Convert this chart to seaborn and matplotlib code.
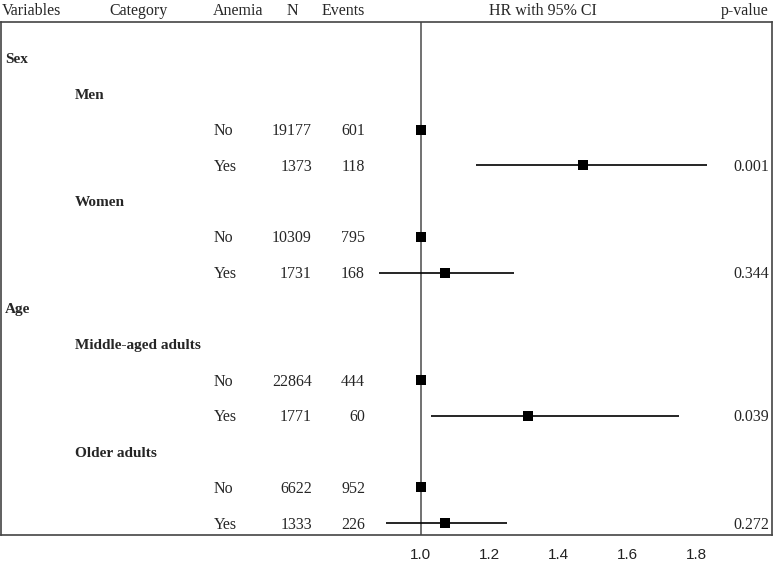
import seaborn as sns
import matplotlib.pyplot as plt
import pandas as pd

# table rows, top to bottom
labels = ["Sex", "Men", "No", "Yes", "Women", "No", "Yes",
          "Age", "Middle-aged adults", "No", "Yes", "Older adults", "No", "Yes"]
levels = [0, 1, 2, 2, 1, 2, 2, 0, 1, 2, 2, 1, 2, 2]
n_vals = ["", "", "19177", "1373", "", "10309", "1731",
          "", "", "22864", "1771", "", "6622", "1333"]
events = ["", "", "601", "118", "", "795", "168",
          "", "", "444", "60", "", "952", "226"]
pvals = ["", "", "", "0.001", "", "", "0.344",
         "", "", "", "0.039", "", "", "0.272"]

# hazard ratios (None = no estimate on that row)
hr = [None, None, 1.0, 1.47, None, 1.0, 1.07,
      None, None, 1.0, 1.31, None, 1.0, 1.07]
lo = [None, None, 1.0, 1.16, None, 1.0, 0.88,
      None, None, 1.0, 1.03, None, 1.0, 0.90]
hi = [None, None, 1.0, 1.83, None, 1.0, 1.27,
      None, None, 1.0, 1.75, None, 1.0, 1.25]

df = pd.DataFrame({"row": range(len(labels)), "hr": hr, "lo": lo, "hi": hi}).dropna()

sns.set_style("white")
plt.rcParams["font.family"] = ["Liberation Serif", "DejaVu Serif"]

fig = plt.figure(figsize=(7.74, 5.61), dpi=100)
ax = fig.add_axes([1 / 774, 26 / 561, 771 / 774, 513 / 561])

# pixel -> axes fraction helper for the text columns
def fx(px):
    return (px - 1) / 771

ax.axvline(1.0, color="#666666", lw=1.3, zorder=1)
ax.hlines(df["row"], df["lo"], df["hi"], color="black", lw=1.2, zorder=2)
sns.scatterplot(data=df, x="hr", y="row", marker="s", s=60, color="black",
                edgecolor="black", linewidth=0, ax=ax, zorder=3, legend=False)

ax.set_xlim(1 - 419.7 / 345, 1 + 351.3 / 345)
ax.set_ylim(13.335, -1.006)
ax.set_xticks([1.0, 1.2, 1.4, 1.6, 1.8])
ax.set_xticklabels(["1.0", "1.2", "1.4", "1.6", "1.8"],
                   family="Liberation Sans", fontsize=11, color="#222222")
ax.set_yticks([])
ax.set_xlabel("")
ax.set_ylabel("")
ax.tick_params(axis="x", length=4, width=1, color="#555555", pad=5.5)
for sp in ax.spines.values():
    sp.set_color("#444444")
    sp.set_linewidth(1.2)

tr = ax.get_yaxis_transform()
fs = 11.5
dy = 0.045
for i, lab in enumerate(labels):
    y = i + dy
    if levels[i] == 0:
        ax.text(fx(5), y, lab, transform=tr, fontsize=11, fontweight="bold", va="center")
    elif levels[i] == 1:
        ax.text(fx(75), y, lab, transform=tr, fontsize=11, fontweight="bold", va="center")
    else:
        ax.text(fx(214), y, lab, transform=tr, fontsize=fs, va="center")
    ax.text(fx(312), y, n_vals[i], transform=tr, fontsize=fs, va="center", ha="right")
    ax.text(fx(365), y, events[i], transform=tr, fontsize=fs, va="center", ha="right")
    ax.text(fx(769), y, pvals[i], transform=tr, fontsize=fs, va="center", ha="right")

# column headers above the frame
hy = 1 - 11 / 561
fig.text(2 / 774, hy, "Variables", fontsize=fs, va="center", ha="left")
fig.text(138 / 774, hy, "Category", fontsize=fs, va="center", ha="center")
fig.text(238 / 774, hy, "Anemia", fontsize=fs, va="center", ha="center")
fig.text(292 / 774, hy, "N", fontsize=fs, va="center", ha="center")
fig.text(343 / 774, hy, "Events", fontsize=fs, va="center", ha="center")
fig.text(543 / 774, hy, "HR with 95% CI", fontsize=fs, va="center", ha="center")
fig.text(769 / 774, hy, "p-value", fontsize=fs, va="center", ha="right")

fig.savefig("out.png", dpi=100)
